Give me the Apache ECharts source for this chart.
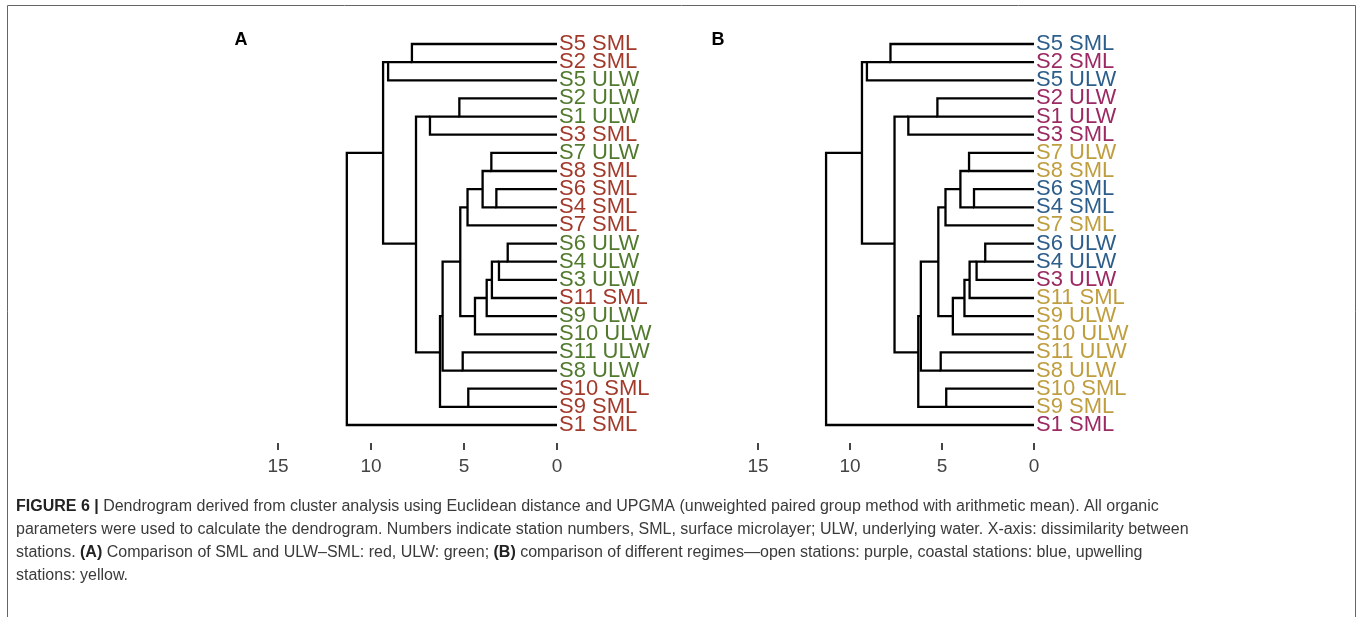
<!DOCTYPE html>
<html>
<head>
<meta charset="utf-8">
<script src="https://cdn.jsdelivr.net/npm/echarts@6/dist/echarts.min.js"></script>
<style>
  html, body { margin: 0; padding: 0; background: #fff; }
  #main { width: 1357px; height: 617px; }
</style>
</head>
<body>
<div id="main"></div>
<script>
// leaf order, top to bottom
const leaves = [
  'S5 SML', 'S2 SML', 'S5 ULW', 'S2 ULW', 'S1 ULW', 'S3 SML', 'S7 ULW', 'S8 SML',
  'S6 SML', 'S4 SML', 'S7 SML', 'S6 ULW', 'S4 ULW', 'S3 ULW', 'S11 SML', 'S9 ULW',
  'S10 ULW', 'S11 ULW', 'S8 ULW', 'S10 SML', 'S9 SML', 'S1 SML'
];

// merges in UPGMA order, node nK is the K-th merge
const mergePairs = [
  ['S5 SML', 'S2 SML'],   // n0
  ['n0', 'S5 ULW'],       // n1
  ['S2 ULW', 'S1 ULW'],   // n2
  ['n2', 'S3 SML'],       // n3
  ['S7 ULW', 'S8 SML'],   // n4
  ['S6 SML', 'S4 SML'],   // n5
  ['n4', 'n5'],           // n6
  ['n6', 'S7 SML'],       // n7
  ['S6 ULW', 'S4 ULW'],   // n8
  ['n8', 'S3 ULW'],       // n9
  ['n9', 'S11 SML'],      // n10
  ['n10', 'S9 ULW'],      // n11
  ['n11', 'S10 ULW'],     // n12
  ['n7', 'n12'],          // n13
  ['S11 ULW', 'S8 ULW'],  // n14
  ['n13', 'n14'],         // n15
  ['S10 SML', 'S9 SML'],  // n16
  ['n15', 'n16'],         // n17
  ['n3', 'n17'],          // n18
  ['n1', 'n18'],          // n19
  ['n19', 'S1 SML']       // n20
];
const mergeHeights = [
  7.8, 9.08, 5.25, 6.83, 3.53, 3.26, 4.0, 4.81, 2.65, 3.12, 3.5,
  3.78, 4.41, 5.2, 5.07, 6.15, 4.77, 6.29, 7.58, 9.35, 11.3
];

const xTicks = [0, 5, 10, 15];

// station regimes for panel B
const openStations = ['S1', 'S2', 'S3'];
const coastalStations = ['S4', 'S5', 'S6'];
const upwellingStations = ['S7', 'S8', 'S9', 'S10', 'S11'];

const RED = '#a23a2b', GREEN = '#527a2e';
const PURPLE = '#9c2a62', BLUE = '#2d5e8b', YELLOW = '#bf9e40';

function colorA(idx) {
  return leaves[idx].indexOf('SML') >= 0 ? RED : GREEN;
}
function colorB(idx) {
  let st = leaves[idx].split(' ')[0];
  if (openStations.indexOf(st) >= 0) return PURPLE;
  if (coastalStations.indexOf(st) >= 0) return BLUE;
  return YELLOW;
}

// position (height, leaf index) of every node
let nodePos = {};
leaves.forEach((l, i) => { nodePos[l] = [0, i]; });
let links = [];
mergePairs.forEach((p, k) => {
  let a = nodePos[p[0]], b = nodePos[p[1]];
  let h = mergeHeights[k];
  links.push([a[0], a[1], h, b[1], b[0]]);
  nodePos['n' + k] = [h, (a[1] + b[1]) / 2];
});

function renderLink(params, api) {
  let p1 = api.coord([api.value(0), api.value(1)]);
  let p2 = api.coord([api.value(2), api.value(1)]);
  let p3 = api.coord([api.value(2), api.value(3)]);
  let p4 = api.coord([api.value(4), api.value(3)]);
  return {
    type: 'polyline',
    shape: { points: [p1, p2, p3, p4] },
    style: { stroke: '#000', lineWidth: 2.3, fill: null, lineJoin: 'miter' }
  };
}

function xAxisCfg(gi) {
  return {
    gridIndex: gi, type: 'value', min: 0, max: 15, interval: 5, inverse: true,
    offset: 18,
    axisLine: { show: false },
    axisTick: { show: true, length: 7, lineStyle: { color: '#444', width: 2 } },
    splitLine: { show: false },
    axisLabel: { color: '#444', fontSize: 19, margin: 14, fontFamily: 'Liberation Sans' }
  };
}
function yAxisCfg(gi, colorFn) {
  return {
    gridIndex: gi, type: 'category', data: leaves, inverse: true, boundaryGap: false,
    position: 'right',
    axisLine: { show: false }, axisTick: { show: false }, splitLine: { show: false },
    axisLabel: {
      interval: 0, margin: 2, fontSize: 22, fontFamily: 'Liberation Sans',
      color: (v, i) => colorFn(i)
    }
  };
}

const capFont = '16px "Liberation Sans"';
const capLines = [
  '{b|FIGURE 6 |} Dendrogram derived from cluster analysis using Euclidean distance and UPGMA (unweighted paired group method with arithmetic mean). All organic',
  'parameters were used to calculate the dendrogram. Numbers indicate station numbers, SML, surface microlayer; ULW, underlying water. X-axis: dissimilarity between',
  'stations. {b|(A)} Comparison of SML and ULW\u2013SML: red, ULW: green; {b|(B)} comparison of different regimes\u2014open stations: purple, coastal stations: blue, upwelling',
  'stations: yellow.'
];

let graphics = [
  { type: 'rect', shape: { x: 7.5, y: 5.5, width: 1348, height: 640 },
    style: { fill: null, stroke: '#666', lineWidth: 1 }, silent: true },
  { type: 'text', x: 241, y: 40, style: { text: 'A', font: 'bold 18px "Liberation Sans"', fill: '#000', align: 'center', verticalAlign: 'middle' } },
  { type: 'text', x: 718, y: 40, style: { text: 'B', font: 'bold 18px "Liberation Sans"', fill: '#000', align: 'center', verticalAlign: 'middle' } }
];
capLines.forEach((t, i) => {
  graphics.push({
    type: 'text', x: 16, y: 507 + i * 23,
    style: {
      text: t, font: capFont, fill: '#3a3a3a', verticalAlign: 'middle',
      rich: { b: { font: 'bold 16px "Liberation Sans"', fill: '#222' } }
    }
  });
});

let chart = echarts.init(document.getElementById('main'));
chart.setOption({
  backgroundColor: '#fff',
  animation: false,
  grid: [
    { left: 278, right: 800, top: 44, bottom: 192 },
    { left: 758, right: 323, top: 44, bottom: 192 }
  ],
  xAxis: [xAxisCfg(0), xAxisCfg(1)],
  yAxis: [yAxisCfg(0, colorA), yAxisCfg(1, colorB)],
  series: [
    { type: 'custom', xAxisIndex: 0, yAxisIndex: 0, renderItem: renderLink, data: links, encode: { x: [0, 2, 4], y: [1, 3] }, clip: false },
    { type: 'custom', xAxisIndex: 1, yAxisIndex: 1, renderItem: renderLink, data: links, encode: { x: [0, 2, 4], y: [1, 3] }, clip: false }
  ],
  graphic: graphics
});
</script>
</body>
</html>
